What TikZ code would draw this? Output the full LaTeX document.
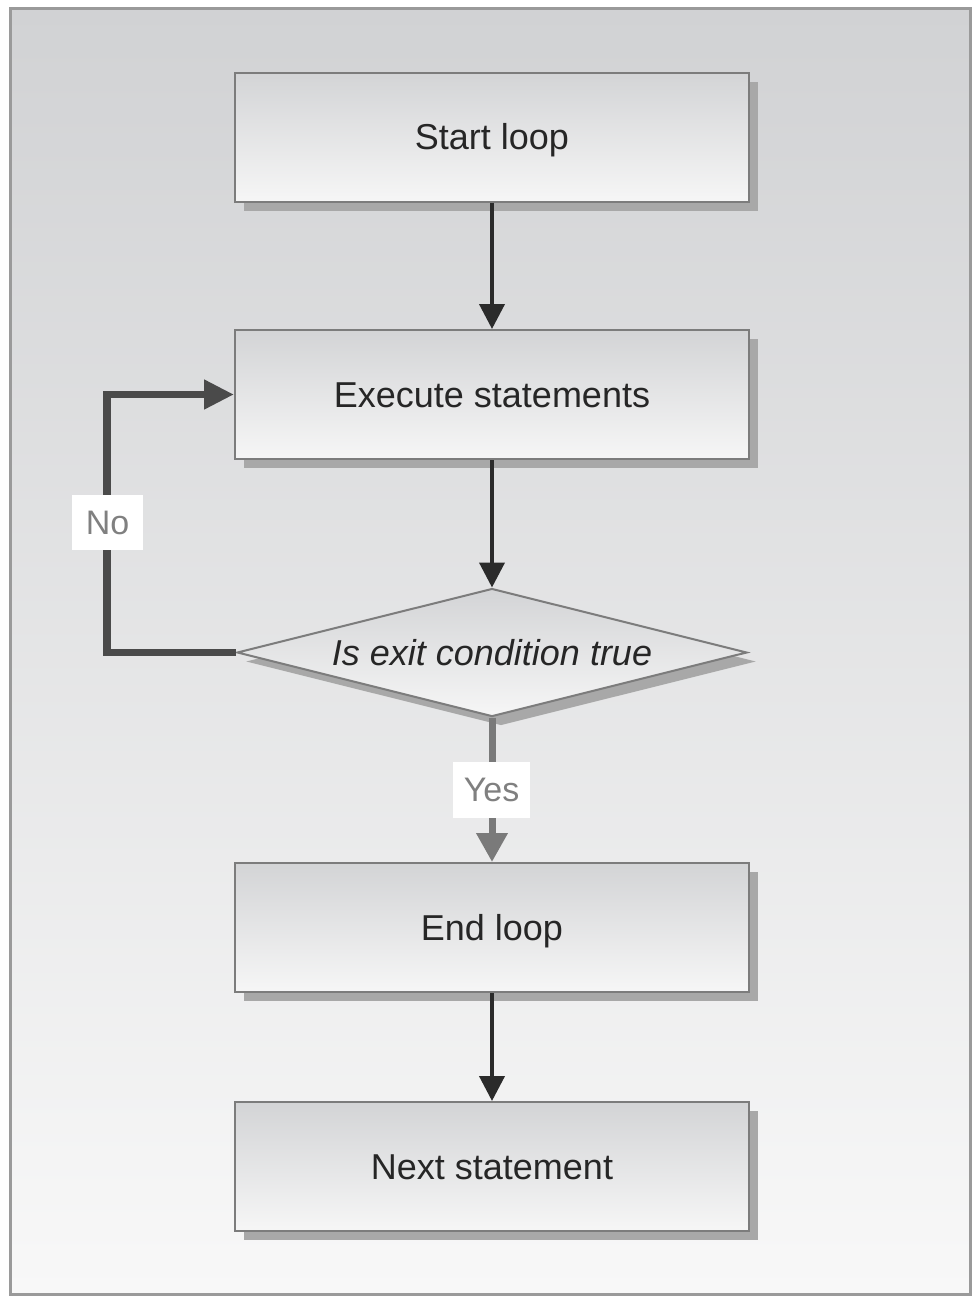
\documentclass[tikz,border=0pt]{standalone}
\usepackage{fontspec}
\setmainfont{Liberation Sans}
\usetikzlibrary{shapes.geometric,arrows.meta,shadows}
\definecolor{frameline}{HTML}{9A9A9A}
\definecolor{bgtop}{HTML}{D1D2D4}
\definecolor{bgbot}{HTML}{F8F8F8}
\definecolor{boxtop}{HTML}{D3D4D6}
\definecolor{boxbot}{HTML}{F6F6F6}
\definecolor{boxline}{HTML}{7C7C7C}
\definecolor{shade}{HTML}{A8A8A8}
\definecolor{ink}{HTML}{262626}
\definecolor{flow}{HTML}{2B2B2B}
\definecolor{loopline}{HTML}{4A4A4A}
\definecolor{yesline}{HTML}{7A7A7A}
\definecolor{labelink}{HTML}{808080}
\tikzset{
  stepbox/.style={rectangle, draw=boxline, line width=2pt,
    top color=boxtop, bottom color=boxbot,
    minimum width=514pt, minimum height=129pt, inner sep=0pt,
    text height=25.8pt, text depth=0pt,
    text=ink, font=\fontsize{36}{43}\selectfont,
    drop shadow={shadow xshift=9pt, shadow yshift=-9pt, fill=shade, opacity=1}},
  decision/.style={diamond, aspect=4, draw=boxline, line width=2pt,
    top color=boxtop, bottom color=boxbot,
    minimum width=510pt, minimum height=128pt, inner sep=0pt,
    text height=25.8pt, text depth=0pt,
    text=ink, font=\fontsize{36}{43}\selectfont\itshape,
    drop shadow={shadow xshift=9pt, shadow yshift=-9pt, fill=shade, opacity=1}},
  flowarrow/.style={draw=flow, line width=4pt, -{Triangle[length=25pt,width=25pt]}},
  loopback/.style={draw=loopline, line width=7.5pt, line join=miter,
    -{Triangle[length=30pt,width=28pt]}},
  yesarrow/.style={draw=yesline, line width=7pt, -{Triangle[length=29pt,width=30pt]}},
  tag/.style={fill=white, text=labelink, font=\fontsize{34}{40}\selectfont, inner sep=0pt}
}
\begin{document}
\begin{tikzpicture}[x=1pt, y=-1pt]
  \useasboundingbox (0,0) rectangle (972,1296);
  \fill[white] (0,0) rectangle (972,1296);
  % panel
  \shade[top color=bgtop, bottom color=bgbot] (10,8) rectangle (970,1294);
  \draw[frameline, line width=3pt] (10,8) rectangle (970,1294);

  % steps
  \node[stepbox] (start) at (492,137) {Start loop};
  \node[stepbox] (exec)  at (492,394.5) {Execute statements};
  \node[decision] (cond) at (492,652.5) {Is exit condition true};
  \node[stepbox] (endl)  at (492,927.5) {End loop};
  \node[stepbox] (next)  at (492,1166.5) {Next statement};

  % connectors
  \coordinate (loopbot) at (107,652.5);
  \coordinate (looptop) at (107,394.5);
  \draw[flowarrow] (start.south) -- (exec.north);
  \draw[flowarrow] (exec.south) -- (cond.north);
  \draw[loopback] (cond.west) -- (loopbot) -- (looptop) -- (exec.west);
  \draw[yesarrow] (cond.south) -- (endl.north);
  \draw[flowarrow] (endl.south) -- (next.north);

  % branch labels
  \node[tag, minimum width=71pt, minimum height=55pt] (nolabel) at (107.5,522.5) {No};
  \node[tag, minimum width=77pt, minimum height=56pt] (yeslabel) at (491.5,790) {Yes};
\end{tikzpicture}
\end{document}
